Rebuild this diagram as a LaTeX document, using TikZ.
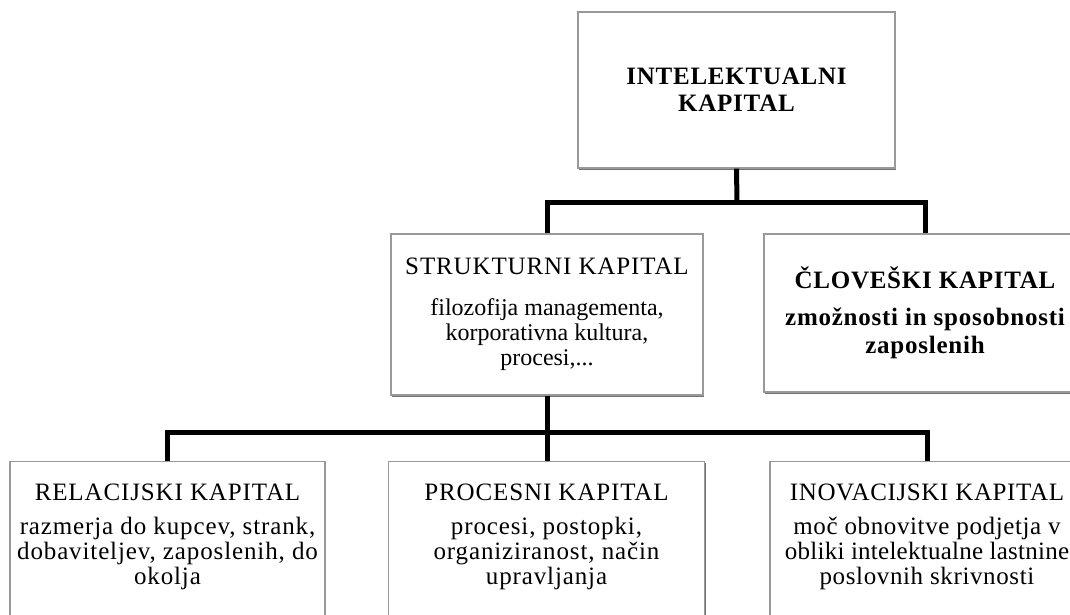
\documentclass[tikz,border=0pt]{standalone}
\usepackage{fontspec}
\setmainfont{Liberation Serif}
\usetikzlibrary{shadows}
\begin{document}
\begin{tikzpicture}[x=1pt,y=-1pt,
  box/.style={draw=black!40, line width=1.3pt, fill=white, inner sep=0pt, align=center,
    drop shadow={shadow xshift=1.2pt, shadow yshift=-1.5pt, fill=black!55, opacity=1}},
  conn/.style={line width=5pt, black, line join=miter},
  body/.style={font=\fontsize{25}{25}\selectfont\addfontfeatures{LetterSpace=3.5}},
  txt/.style={inner sep=0pt, align=center, anchor=north, body}]
\useasboundingbox (0,0) rectangle (1070,615);
\clip (0,0) rectangle (1070,615);
% top level
\node[box, minimum width=317pt, minimum height=156pt, font=\fontsize{25}{27}\selectfont\bfseries\addfontfeatures{LetterSpace=3}]
  (top) at (736.5,90) {INTELEKTUALNI\\KAPITAL};
% second level
\node[box, minimum width=312pt, minimum height=161pt, font=\fontsize{24}{25}\selectfont]
  (struct) at (547,314.5) {{\fontsize{25}{25}\selectfont\addfontfeatures{LetterSpace=3.5}STRUKTURNI KAPITAL}\\[16pt]filozofija managementa,\\korporativna kultura,\\procesi,...};
\node[box, minimum width=322pt, minimum height=158pt, font=\fontsize{25}{28}\selectfont\bfseries\addfontfeatures{LetterSpace=3}]
  (clov) at (925,313) {ČLOVEŠKI KAPITAL\\[9pt]zmožnosti in sposobnosti\\zaposlenih};
% third level boxes
\node[box, minimum width=315pt, minimum height=250pt, anchor=north] (rel) at (167.5,461) {};
\node[box, minimum width=316pt, minimum height=250pt, anchor=north] (proc) at (546.5,461) {};
\node[box, minimum width=314pt, minimum height=250pt, anchor=north] (inov) at (927,461) {};
\node[txt] (reltxt) at ([yshift=-23pt]rel.north) {RELACIJSKI KAPITAL\\[9pt]razmerja do kupcev, strank,\\dobaviteljev, zaposlenih, do\\okolja};
\node[txt] (proctxt) at ([yshift=-23pt]proc.north) {PROCESNI KAPITAL\\[9pt]procesi, postopki,\\organiziranost, način\\upravljanja};
\node[txt, font=\fontsize{25}{25}\selectfont\addfontfeatures{LetterSpace=2.5}] (inovtxt) at ([yshift=-23pt]inov.north) {INOVACIJSKI KAPITAL\\[9pt]moč obnovitve podjetja v\\{\addfontfeatures{LetterSpace=1}obliki intelektualne lastnine}\\poslovnih skrivnosti};
% connectors
\coordinate (busA) at (737,202);
\coordinate (busB) at (547,432);
\draw[conn] (top.south) -- (busA);
\draw[conn] (struct.north) |- (busA) -| (clov.north);
\draw[conn] (struct.south) -- (busB);
\draw[conn] (rel.north) |- (busB) -| (inov.north);
\draw[conn] (busB) -- (busB |- proc.north);
\end{tikzpicture}
\end{document}
